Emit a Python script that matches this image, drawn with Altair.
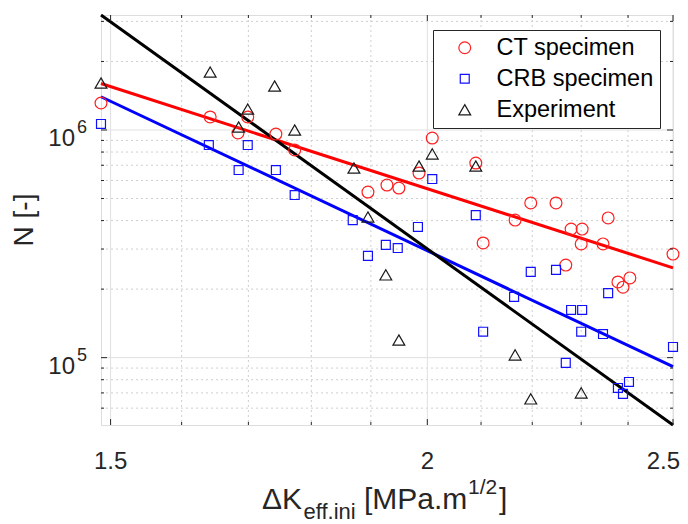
import altair as alt
import pandas as pd

# ---------------- data ----------------
series = ["CT specimen", "CRB specimen", "Experiment"]

ct_k = [1.487, 1.642, 1.684, 1.699, 1.743, 1.773, 1.895, 1.928, 1.949, 1.985,
        2.009, 2.090, 2.104, 2.166, 2.197, 2.248, 2.268, 2.279, 2.302, 2.300,
        2.346, 2.357, 2.378, 2.389, 2.404, 2.500]
ct_n = [1.314e6, 1.141e6, 9.70e5, 1.141e6, 9.60e5, 8.17e5, 5.34e5, 5.73e5, 5.56e5, 6.47e5,
        9.22e5, 7.16e5, 3.19e5, 4.02e5, 4.78e5, 4.78e5, 2.55e5, 3.67e5, 3.67e5, 3.16e5,
        3.16e5, 4.11e5, 2.15e5, 2.04e5, 2.24e5, 2.85e5]

crb_k = [1.487, 1.640, 1.685, 1.699, 1.743, 1.773, 1.869, 1.895, 1.926, 1.947,
         1.983, 2.009, 2.090, 2.104, 2.164, 2.197, 2.248, 2.268, 2.279, 2.302,
         2.300, 2.346, 2.357, 2.378, 2.389, 2.402, 2.500]
crb_n = [1.063e6, 8.59e5, 6.67e5, 8.59e5, 6.67e5, 5.18e5, 4.02e5, 2.80e5, 3.13e5, 3.03e5,
         3.75e5, 6.09e5, 4.23e5, 1.30e5, 1.85e5, 2.38e5, 2.43e5, 9.48e4, 1.62e5, 1.62e5,
         1.30e5, 1.27e5, 1.92e5, 7.36e4, 6.93e4, 7.82e4, 1.114e5]

exp_k = [1.487, 1.642, 1.685, 1.699, 1.741, 1.773, 1.871, 1.895, 1.926, 1.949,
         1.985, 2.009, 2.090, 2.166, 2.197, 2.300]
exp_n = [1.608e6, 1.797e6, 1.031e6, 1.236e6, 1.561e6, 1.0e6, 6.81e5, 4.15e5, 2.31e5, 1.196e5,
         6.95e5, 7.85e5, 6.95e5, 1.028e5, 6.59e4, 7.0e4]

# power-law fits (end points at the axis limits)
fit_k = [1.487, 2.5]
ct_fit = [1.60e6, 2.48e5]
crb_fit = [1.40e6, 9.13e4]
exp_fit = [3.2e6, 5.06e4]

x_domain = [1.487, 2.5]
y_domain = [5.06e4, 3.2e6]

x_major = [1.5, 2.0, 2.5]
x_major_labels = ["1.5", "2", "2.5"]
x_minor = [1.6, 1.7, 1.8, 1.9, 2.1, 2.2, 2.3, 2.4]
y_major = [1e5, 1e6]
y_major_exp = ["5", "6"]
y_minor = [6e4, 7e4, 8e4, 9e4, 2e5, 3e5, 4e5, 5e5, 6e5, 7e5, 8e5, 9e5, 2e6, 3e6]

# ---------------- chart ----------------
W, H = 572, 410
FONT = "Liberation Sans"
AX = "#262626"
TRI = "M0,-0.866L1,0.866L-1,0.866Z"

xs = alt.Scale(type="log", domain=x_domain, nice=False)
ys = alt.Scale(type="log", domain=y_domain, nice=False)
X = alt.X("k:Q", scale=xs, axis=None)
Y = alt.Y("n:Q", scale=ys, axis=None)

pts = pd.concat([
    pd.DataFrame({"k": ct_k, "n": ct_n, "series": series[0]}),
    pd.DataFrame({"k": crb_k, "n": crb_n, "series": series[1]}),
    pd.DataFrame({"k": exp_k, "n": exp_n, "series": series[2]}),
], ignore_index=True)

df_xmaj = pd.DataFrame({"k": x_major, "label": x_major_labels})
df_xmin = pd.DataFrame({"k": x_minor})
df_ymaj = pd.DataFrame({"n": y_major, "exp": y_major_exp})
df_ymin = pd.DataFrame({"n": y_minor})

one = pd.DataFrame({"a": [0]})

layers = []
# grid
layers.append(alt.Chart(df_xmin).mark_rule(color="#cfcfcf", strokeDash=[2, 3], strokeWidth=1).encode(x=X))
layers.append(alt.Chart(df_ymin).mark_rule(color="#cfcfcf", strokeDash=[2, 3], strokeWidth=1).encode(y=Y))
layers.append(alt.Chart(df_xmaj).mark_rule(color="#e0e0e0", strokeWidth=1).encode(x=X))
layers.append(alt.Chart(df_ymaj).mark_rule(color="#e0e0e0", strokeWidth=1).encode(y=Y))

# fit lines
for kk, nn, col in [(fit_k, ct_fit, "#ff0000"), (fit_k, crb_fit, "#0000ff"), (fit_k, exp_fit, "#000000")]:
    layers.append(
        alt.Chart(pd.DataFrame({"k": kk, "n": nn}))
        .mark_line(color=col, strokeWidth=3, clip=False)
        .encode(x=X, y=Y)
    )

# scatter points with legend
leg = alt.Legend(
    title=None, orient="none", legendX=332, legendY=15, direction="vertical",
    fillColor="white", strokeColor=AX, padding=6, cornerRadius=0,
    labelFont=FONT, labelFontSize=23.5, labelColor="#000000",
    symbolOffset=14, labelOffset=20, rowPadding=6, symbolStrokeWidth=1.2,
)
layers.append(
    alt.Chart(pts).mark_point(filled=False, strokeWidth=1.2, opacity=1).encode(
        x=X, y=Y,
        color=alt.Color("series:N", scale=alt.Scale(domain=series, range=["#ff2020", "#1010ff", "#1a1a1a"]), legend=leg),
        shape=alt.Shape("series:N", scale=alt.Scale(domain=series, range=["circle", "square", TRI]), legend=leg),
        size=alt.Size("series:N", scale=alt.Scale(type="ordinal", domain=series, range=[140, 80, 140]), legend=leg),
    )
)

# inward ticks (all four sides)
for df, ln in [(df_xmaj, 6), (df_xmin, 3)]:
    layers.append(alt.Chart(df).mark_rule(color=AX, strokeWidth=1).encode(x=X, y=alt.value(H), y2=alt.value(H - ln)))
    layers.append(alt.Chart(df).mark_rule(color=AX, strokeWidth=1).encode(x=X, y=alt.value(0), y2=alt.value(ln)))
for df, ln in [(df_ymaj, 6), (df_ymin, 3)]:
    layers.append(alt.Chart(df).mark_rule(color=AX, strokeWidth=1).encode(y=Y, x=alt.value(0), x2=alt.value(ln)))
    layers.append(alt.Chart(df).mark_rule(color=AX, strokeWidth=1).encode(y=Y, x=alt.value(W), x2=alt.value(W - ln)))

# tick labels (the last one kept inside the page edge)
layers.append(
    alt.Chart(df_xmaj.iloc[:-1]).mark_text(font=FONT, fontSize=24, color=AX, align="center", baseline="alphabetic")
    .encode(x=X, y=alt.value(454), text="label:N")
)
layers.append(
    alt.Chart(df_xmaj.iloc[-1:]).mark_text(font=FONT, fontSize=24, color=AX, align="right", baseline="alphabetic", dx=7)
    .encode(x=X, y=alt.value(454), text="label:N")
)
layers.append(
    alt.Chart(df_ymaj).mark_text(font=FONT, fontSize=24, color=AX, align="right", baseline="alphabetic", dy=16)
    .encode(y=Y, x=alt.value(-26), text=alt.value("10"))
)
layers.append(
    alt.Chart(df_ymaj).mark_text(font=FONT, fontSize=18, color=AX, align="left", baseline="alphabetic", dy=3)
    .encode(y=Y, x=alt.value(-24), text="exp:N")
)

# axis titles
def txt(s, x, y, size, angle=0, align="left"):
    return alt.Chart(one).mark_text(font=FONT, fontSize=size, color=AX, align=align,
                                    baseline="alphabetic", angle=angle).encode(
        x=alt.value(x), y=alt.value(y), text=alt.value(s))

layers.append(txt("N [-]", -68, 205, 28, angle=270, align="center"))
layers.append(txt("\u0394K", 161, 494, 30))
layers.append(txt("eff.ini", 202.5, 504, 22))
layers.append(txt("[MPa.m", 263, 494, 30))
layers.append(txt("1/2", 367, 479, 21))
layers.append(txt("]", 398, 494, 30))

chart = alt.layer(*layers).properties(
    width=W, height=H,
    autosize=alt.AutoSizeParams(type="none"),
    padding={"left": 93, "top": 7, "right": 7, "bottom": 110},
).configure_view(stroke=AX, strokeWidth=1.2).configure(background="white")

chart.save("out.html", embed_options={"renderer": "svg", "actions": False})
